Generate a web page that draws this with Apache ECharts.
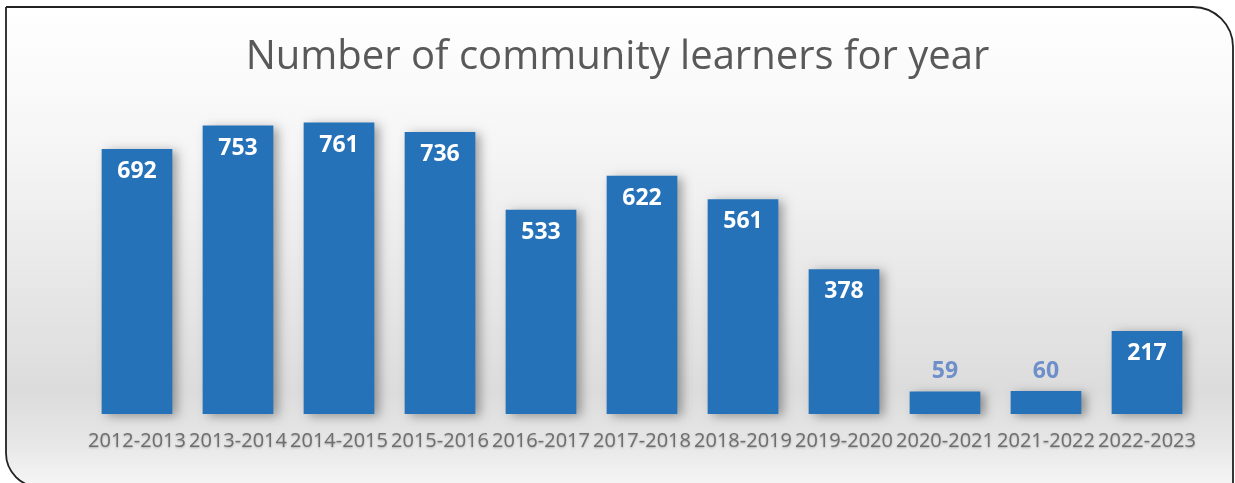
<!DOCTYPE html>
<html><head><meta charset="utf-8">
<script src="https://cdn.jsdelivr.net/npm/echarts@6/dist/echarts.min.js"></script>
<style>html,body{margin:0;padding:0;background:#fff}#c{width:1235px;height:483px}</style>
</head><body><div id="c"></div>
<script>
const categories = ['2012-2013','2013-2014','2014-2015','2015-2016','2016-2017','2017-2018','2018-2019','2019-2020','2020-2021','2021-2022','2022-2023'];
const learners = [692,753,761,736,533,622,561,378,59,60,217];
const smallThreshold = 100;

const chart = echarts.init(document.getElementById('c'));
chart.setOption({
  animation:false,
  graphic:[{
    type:'rect', z:-10, silent:true,
    shape:{x:6,y:7,width:1227,height:480,r:[0,40,0,34]},
    style:{
      fill:new echarts.graphic.LinearGradient(0,0,0,1,[
        {offset:0,color:'#ffffff'},{offset:0.3,color:'#f5f5f5'},
        {offset:0.8,color:'#dcdcdc'},{offset:0.9,color:'#e6e6e6'},{offset:1,color:'#f6f6f6'}]),
      stroke:'#222',lineWidth:1.8
    }
  }],
  title:{text:'Number of community learners for year',left:'center',top:33,
    textStyle:{fontFamily:'Open Sans',fontWeight:'normal',fontSize:40,color:'#595959'}},
  grid:{left:86.5,right:37.5,top:107.6,bottom:69,containLabel:false},
  xAxis:{type:'category',data:categories,
    axisLine:{show:false},axisTick:{show:false},
    axisLabel:{interval:0,margin:17,fontFamily:'Open Sans',fontSize:20,color:'#6e6e6e',
      textShadowColor:'rgba(0,0,0,0.25)',textShadowBlur:2,textShadowOffsetY:1}},
  yAxis:{type:'value',min:0,max:800,show:false,splitLine:{show:false}},
  series:[{
    type:'bar',data:learners.map(v=>({value:v,
      label: v<smallThreshold ? {position:'top',distance:8,color:'#6e8fca'} : {}})),
    barCategoryGap:'30%',
    itemStyle:{color:'#2672b9',shadowColor:'rgba(0,0,0,0.35)',shadowBlur:10,shadowOffsetX:5,shadowOffsetY:2},
    label:{show:true,position:'insideTop',distance:11,color:'#ffffff',fontFamily:'Open Sans',fontWeight:'bold',fontSize:23}
  }]
});
</script></body></html>
